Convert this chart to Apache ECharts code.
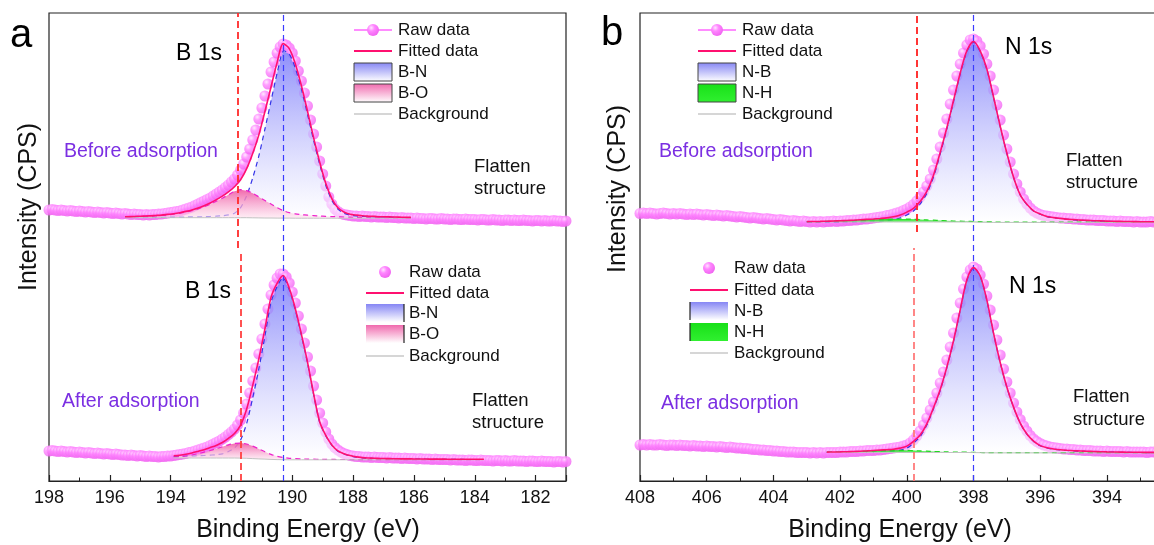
<!DOCTYPE html>
<html><head><meta charset="utf-8">
<script src="https://cdn.jsdelivr.net/npm/echarts@6/dist/echarts.min.js"></script>
<style>html,body{margin:0;padding:0;background:#fff}#c{width:1154px;height:545px}</style>
</head><body><div id="c"></div>
<script>
// ===== DATA (intensity in arbitrary units, stacked offsets included) =====
const rawStep = 0.1;
const aRawStart = 198.0;   // panel a raw data: 198.0 -> 181.0 eV
const bRawStart = 408.0;   // panel b raw data: 408.0 -> 391.0 eV

const aTopRaw = [
271,271.5,271,270.5,271,270.5,270,270.5,270,269.5,
270,269.5,269,269.5,269,268.5,269,268.5,268,268.5,
268,267.5,268,267.5,267,267.5,267,266.5,267,266.5,
266.5,266,266.5,266,266.5,266.5,267,267,267.5,268,
268.5,269,269.5,270,271,272,273,274,275.5,277,
278.5,280,281.5,283,285,287,289,291,293.5,296,
299,302,306,311,317,324,332,341,351,362,
373,385,397,409,419,428,434,437,436,433,
428,420,410,400,388,375,361,347,334,320,
307,295,284,277,272,269.5,267.5,266.5,266,265.5,
265,265,264.5,265,264.5,264.5,264,264.5,264,264,
264,263.5,264,263.5,263.5,263,263.5,263,263,263,
262.5,263,262.5,262.5,262,262.5,262.5,262,262,262.5,
262,262,261.5,262,262,261.5,261.5,262,261.5,261.5,
261.5,261,261.5,261.5,261,261,261.5,261,261,260.5,
261,261,260.5,261,260.5,260.5,261,260.5,260.5,260,
260.5,260.5,260,260.5,260,260,260.5,260,260,259.5,
260];
const aBotRaw = [
30,30.5,30,29.5,30,29.5,29,29.5,29,28.5,
29,28.5,28,28.5,28,27.5,28,27.5,27,27.5,
27,26.5,27,26.5,26,26,25.5,26,25.5,25,
25.5,25,24.5,25,24.5,24.5,24,24.5,24.5,25,
25,25.5,26,26.5,27,27.5,28.5,29,30,31,
32,33,34,35.5,37,38.5,40,42,44,46.5,
49,52,56,61,68,77,88,100,113,127,
142,157,172,186,196,203,207,207,204,198,
189,178,165,152,138,124,110,95,81,68,
58,49,42,37,33.5,31,29,27.5,26.5,25.5,
25,24.5,24.5,24,24,24,23.5,24,23.5,23.5,
23.5,23,23.5,23,23,23,22.5,23,22.5,22.5,
22.5,22,22.5,22,22,22,21.5,22,21.5,21.5,
21.5,21.5,21,21.5,21,21,21,20.5,21,21,
20.5,20.5,21,20.5,20.5,20.5,20,20.5,20.5,20,
20.5,20,20,20.5,20,20,20,19.5,20,20,
19.5,19.5,20,19.5,19.5,19.5,19,19.5,19.5,19,
19.5];
const bTopRaw = [
267.5,268,267.5,268,267.5,267,267.5,268,267.5,267,
267.5,267,267.5,267,266.5,267,266.5,267,266.5,266,
266.5,266,265.5,266,265.5,265,265.5,265,264.5,264,
264.5,264,263.5,263,263.5,263,262.5,262,262.5,262,
261.5,261,261.5,261,260.5,260,260.5,260,259.5,260,
259.5,259,259.5,259,259.5,259,259.5,259.5,260,259.5,
260,260,260.5,260.5,261,261,261.5,262,262,262.5,
263,263.5,264,264.5,265.5,266,267,268,269,270.5,
272,274,276.5,280,284,289,295,302,311,322,
334,348,362,377,391,405,417,428,436,441,
442,440,435,427,417,405,391,376,361,346,
332,319,307,297,289,282,277,273,270,268,
266.5,265.5,265,264.5,264,263.5,263,263,262.5,262.5,
262,262,261.5,261.5,261,261,261,260.5,260.5,260.5,
260,260,260,259.5,260,259.5,259.5,259.5,259,259.5,
259,259,259,259.5,259,259,258.5,259,259,258.5,
259,258.5,258.5,259,258.5,258.5,258.5,258,258.5,258.5,
258.5];
const bBotRaw = [
36,36.5,36,36.5,36,36,36.5,36,35.5,36,
36,35.5,36,35.5,35.5,35,35.5,35,35,34.5,
35,34.5,34.5,34,34.5,34,33.5,34,33.5,33,
33,32.5,32.5,32,31.5,31.5,31,31,30.5,30.5,
30,30,29.5,29.5,29,29,29,28.5,28.5,28.5,
28.5,28,28.5,28,28.5,28,28.5,28.5,28.5,28.5,
29,29,29,29.5,29.5,29.5,30,30,30.5,30.5,
30.5,31,31,31.5,32,32.5,33,33.5,34,35,
36,38,41,45,50,56,63,71,79,88,
98,109,121,134,148,163,178,192,204,211,
214,212,206,197,185,171,156,141,126,112,
99,88,78,69,61.5,55,50,45.5,42,39.5,
37.5,36,35,34,33.5,33,32.5,32,32,31.5,
31.5,31,31,30.5,30.5,30.5,30,30,30,29.5,
30,29.5,29.5,29.5,29.5,29,29.5,29,29,29,
29,29,28.5,29,29,28.5,29,28.5,28.5,28.5,
29,28.5,28.5,28.5,28.5,28,28.5,28.5,28,28.5,
28.5];

// Peak fitting components (step 0.2 eV). Main/side = heights above background.
const fitStep = 0.2;
const aTopFitStart = 195.5;
const aTopBg = [
263.3,263.3,263.3,263.3,263.3,263.3,263.3,263.3,263.3,263.3,
263.3,263.3,263.3,263.3,263.3,263.3,263.3,263.3,263.3,263.3,
263.3,263.2,263.1,263.0,263.0,262.9,262.9,262.9,262.8,262.8,
262.8,262.8,262.8,262.8,262.8,262.8,262.8,262.8,262.8,262.8,
262.8,262.8,262.8,262.8,262.8,262.8,262.8,262.8];
const aTopBN = [
0.2,0.2,0.3,0.3,0.3,0.4,0.4,0.5,0.5,0.6,
0.7,0.8,0.9,1.0,1.2,1.5,2.0,2.8,4.5,10,
22,40,62,89,117,145,167,164,150,129,
104,78,54,33,18,9,5,3,2.2,1.7,
1.4,1.2,1.0,0.9,0.8,0.7,0.6,0.5];
const aTopBO = [
0.8,0.9,1.1,1.3,1.5,1.8,2.2,2.8,3.5,4.4,
5.6,7.0,8.8,11.0,13.5,16.5,19.5,23.0,26.5,28.0,
27.0,24.5,21.0,17.5,14.0,10.5,7.5,5.5,4.3,3.5,
3.0,2.6,2.2,1.9,1.6,1.4,1.2,1.0,0.9,0.8,
0.7,0.6,0.5,0.5,0.4,0.4,0.3,0.3];

const aBotFitStart = 193.9;
const aBotBg = [
23.0,23.0,23.0,23.0,23.0,23.0,23.0,23.0,23.0,23.0,
23.0,22.9,22.7,22.4,22.1,21.9,21.6,21.4,21.3,21.2,
21.2,21.2,21.2,21.2,21.2,21.2,21.2,21.2,21.2,21.2,
21.2,21.2,21.2,21.2,21.2,21.2,21.2,21.2,21.2,21.2,
21.2,21.2,21.2,21.2,21.2,21.2,21.2,21.2,21.2,21.2,
21.2,21.2];
const aBotBN = [
1.2,1.4,1.7,2.0,2.3,2.5,2.9,3.3,4.2,6.5,
10,18,35,61,90,123,157,173,182,170,
150,124.5,97,65.5,37.5,24,14.5,8.6,5.8,3.9,
2.7,2.0,1.6,1.3,1.1,1.0,0.9,0.8,0.7,0.7,
0.6,0.6,0.5,0.5,0.5,0.4,0.4,0.4,0.3,0.3,
0.3,0.3];
const aBotBO = [
1.0,1.4,2.0,3.0,4.3,5.8,7.5,9.3,11.3,13.2,
14.5,15.0,14.3,12.5,10.0,7.3,5.0,3.3,2.2,1.5,
1.1,0.9,0.7,0.6,0.5,0.4,0.4,0.3,0.3,0.3,
0.2,0.2,0.2,0.2,0.2,0.2,0.2,0.2,0.2,0.2,
0.2,0.2,0.2,0.2,0.2,0.2,0.2,0.2,0.2,0.2,
0.2,0.2];

const bTopFitStart = 403.0;
const bTopBg = [
259.0,259.0,259.0,259.0,259.0,259.0,259.0,259.0,259.0,259.0,
259.0,259.0,259.0,259.0,259.0,259.0,259.0,259.0,259.0,259.0,
259.0,259.0,259.0,259.0,259.0,258.9,258.8,258.7,258.6,258.6,
258.6,258.6,258.6,258.6,258.6,258.6,258.6,258.6,258.6,258.6,
258.6,258.6,258.6,258.6,258.6,258.6,258.6,258.6,258.6,258.6,
258.6,258.6,258.6,258.6,258.6,258.6];
const bTopNB = [
0.1,0.1,0.1,0.2,0.2,0.2,0.3,0.3,0.4,0.5,
0.6,0.8,1.2,2.2,4.0,7.0,11,18,28.5,45,
68,93,120.5,148,170.5,180,170.8,152.8,125,95.8,
68.8,44.8,27.3,17.8,11.3,8.1,5.8,4.6,3.8,3.1,
2.6,2.1,1.8,1.5,1.3,1.1,0.9,0.8,0.7,0.6,
0.5,0.4,0.4,0.3,0.3,0.2];
const bTopNH = [
0.3,0.4,0.5,0.6,0.8,1.0,1.2,1.5,1.8,2.1,
2.4,2.7,2.9,3.0,3.0,2.9,2.7,2.4,2.1,1.8,
1.5,1.2,1.0,0.8,0.7,0.6,0.5,0.5,0.4,0.4,
0.4,0.4,0.3,0.3,0.3,0.3,0.2,0.2,0.2,0.2,
0.2,0.2,0.2,0.2,0.2,0.2,0.2,0.2,0.2,0.2,
0.2,0.2,0.2,0.2,0.2,0.2];

const bBotFitStart = 402.4;
const bBotBg = [
28.5,28.5,28.5,28.5,28.5,28.5,28.5,28.5,28.5,28.5,
28.5,28.5,28.5,28.5,28.5,28.5,28.5,28.5,28.5,28.5,
28.5,28.5,28.4,28.3,28.2,28.1,28.1,28.1,28.1,28.1,
28.1,28.1,28.1,28.1,28.1,28.1,28.1,28.1,28.1,28.1,
28.1,28.1,28.1,28.1,28.1,28.1,28.1,28.1,28.1,28.1,
28.1,28.1,28.1];
const bBotNB = [
0.1,0.1,0.1,0.2,0.2,0.3,0.3,0.4,0.5,0.7,
1.1,2.2,4.3,9.3,15.9,27.4,43.8,62,84.8,111.2,
142.3,172.3,184.7,176.5,152.5,119.6,90.2,65.5,45.6,29.6,
18.7,11.6,7.1,4.9,3.7,2.9,2.4,2.0,1.7,1.4,
1.2,1.0,0.8,0.7,0.6,0.5,0.4,0.4,0.3,0.3,
0.3,0.2,0.2];
const bBotNH = [
0.3,0.4,0.5,0.6,0.8,1.0,1.3,1.6,1.9,2.1,
2.2,2.2,2.1,1.9,1.6,1.3,1.0,0.8,0.6,0.5,
0.4,0.3,0.3,0.2,0.2,0.2,0.2,0.2,0.2,0.2,
0.2,0.2,0.2,0.2,0.2,0.2,0.2,0.2,0.2,0.2,
0.2,0.2,0.2,0.2,0.2,0.2,0.2,0.2,0.2,0.2,
0.2,0.2,0.2];

// Reference peak positions (eV)
const aRefLines = {redTop: 191.8, redBottom: 191.7, blue: 190.3};
const bRefLines = {redTop: 399.7, redBottom: 399.8, blue: 398.0};

// Axis ranges (eV)
const aRange = [181, 198];
const bRange = [391, 408];

// Texts
const aLegendLabels = ['Raw data', 'Fitted data', 'B-N', 'B-O', 'Background'];
const bLegendLabels = ['Raw data', 'Fitted data', 'N-B', 'N-H', 'Background'];

// ===== BUILD =====
const FF = '"Liberation Sans", Arial, Helvetica, sans-serif';
const G = echarts.graphic;
function seq(start, step, n) { const a = []; for (let i = 0; i < n; i++) a.push(+(start - i * step).toFixed(2)); return a; }
function pairs(xs, ys) { return ys.map((y, i) => [xs[i], y]); }

const ballGrad = () => new G.RadialGradient(0.36, 0.32, 0.7, [
  {offset: 0, color: '#ffe4ff'}, {offset: 0.4, color: '#ff86ff'}, {offset: 1, color: '#f064f0'}]);
const blueArea = () => new G.LinearGradient(0, 0, 0, 1, [
  {offset: 0, color: 'rgba(126,126,250,0.88)'}, {offset: 1, color: 'rgba(255,255,255,0.55)'}]);
const pinkArea = () => new G.LinearGradient(0, 0, 0, 1, [
  {offset: 0, color: 'rgba(240,96,168,0.95)'}, {offset: 1, color: 'rgba(255,225,238,0.6)'}]);
const greenArea = () => new G.LinearGradient(0, 0, 0, 1, [
  {offset: 0, color: 'rgba(20,228,20,0.95)'}, {offset: 1, color: 'rgba(110,240,110,0.75)'}]);

const blueLine = {color: '#3c3cff', width: 1.2, type: [6, 4]};
function redLine(c) { return {color: c, width: 1.8, type: [7, 4]}; }

// filled component between background and (background + height), drawn through the axis scales
function componentSeries(gi, fx, bg, comp, lineColor, fillFn) {
  const upper = bg.map((b, i) => b + comp[i]);
  return {
    type: 'custom', coordinateSystem: 'cartesian2d', xAxisIndex: gi, yAxisIndex: gi,
    silent: true, animation: false, z: 3, clip: true,
    data: [[fx[0], bg[0]]],
    renderItem: function (params, api) {
      const up = fx.map((x, i) => api.coord([x, upper[i]]));
      const lo = fx.map((x, i) => api.coord([x, bg[i]])).reverse();
      return {type: 'group', children: [
        {type: 'polygon', shape: {points: up.concat(lo)}, style: {fill: fillFn(), stroke: null}},
        {type: 'polyline', shape: {points: up, smooth: 0.25}, style: {stroke: lineColor, lineWidth: 1.2, lineDash: [5, 4], fill: null}}
      ]};
    }
  };
}

function spectrum(gi, rawStart, raw, fitStart, bg, main, side, sideColor, sideArea, markData) {
  const rx = seq(rawStart, rawStep, raw.length);
  const fx = seq(fitStart, fitStep, bg.length);
  const fit = bg.map((b, i) => +(b + main[i] + side[i]).toFixed(2));
  const common = {xAxisIndex: gi, yAxisIndex: gi, symbol: 'none', silent: true, animation: false};
  return [
    {type: 'scatter', xAxisIndex: gi, yAxisIndex: gi, data: pairs(rx, raw), symbolSize: 11,
     itemStyle: {color: ballGrad()}, z: 2, silent: true, animation: false,
     markLine: {symbol: ['none', 'none'], silent: true, animation: false, label: {show: false},
                emphasis: {disabled: true}, data: markData}},
    componentSeries(gi, fx, bg, main, '#3535e8', blueArea),
    componentSeries(gi, fx, bg, side, sideColor, sideArea),
    Object.assign({type: 'line', data: pairs(fx, bg), lineStyle: {color: '#c2c2c2', width: 1}, z: 4}, common),
    Object.assign({type: 'line', data: pairs(fx, fit), smooth: 0.3, lineStyle: {color: '#ff1070', width: 1.6}, z: 5}, common)
  ];
}

const series = [].concat(
  spectrum(0, aRawStart, aTopRaw, aTopFitStart, aTopBg, aTopBN, aTopBO, '#ee22cc', pinkArea, [
    {xAxis: aRefLines.blue, lineStyle: blueLine},
    [{coord: [aRefLines.redTop, 233], lineStyle: redLine('#ff2b2b')}, {coord: [aRefLines.redTop, 468]}]
  ]),
  spectrum(0, aRawStart, aBotRaw, aBotFitStart, aBotBg, aBotBN, aBotBO, '#ee22cc', pinkArea, [
    [{coord: [aRefLines.redBottom, 0], lineStyle: redLine('#ff4040')}, {coord: [aRefLines.redBottom, 229]}]
  ]),
  spectrum(1, bRawStart, bTopRaw, bTopFitStart, bTopBg, bTopNB, bTopNH, '#22d822', greenArea, [
    {xAxis: bRefLines.blue, lineStyle: blueLine},
    [{coord: [bRefLines.redTop, 249], lineStyle: redLine('#ff2020')}, {coord: [bRefLines.redTop, 468]}]
  ]),
  spectrum(1, bRawStart, bBotRaw, bBotFitStart, bBotBg, bBotNB, bBotNH, '#22d822', greenArea, [
    [{coord: [bRefLines.redBottom, 0], lineStyle: redLine('#ff7a7a')}, {coord: [bRefLines.redBottom, 233]}]
  ])
);

function xAx(gi, r) {
  return {type: 'value', gridIndex: gi, min: r[0], max: r[1], inverse: true, splitNumber: 8,
    axisLine: {show: true, onZero: false, lineStyle: {color: '#222', width: 1.2}},
    axisTick: {show: true, inside: true, length: 6, lineStyle: {color: '#222', width: 1.2}},
    minorTick: {show: true, splitNumber: 2, length: 3.5, lineStyle: {color: '#222', width: 1}},
    axisLabel: {show: true, color: '#111', fontSize: 18, fontFamily: FF, margin: 8, showMinLabel: false, showMaxLabel: true},
    splitLine: {show: false}, minorSplitLine: {show: false}};
}
function yAx(gi) {
  return {type: 'value', gridIndex: gi, min: 0, max: 468, axisLine: {show: false}, axisTick: {show: false},
    axisLabel: {show: false}, splitLine: {show: false}};
}
const gridCommon = {show: true, borderColor: '#222', borderWidth: 1.2, backgroundColor: 'transparent',
  containLabel: false, outerBoundsMode: 'none'};

// Graphic texts and legends
function T(text, x, y, size, fill, opt) {
  opt = opt || {};
  return {type: 'text', x: x, y: y, rotation: opt.rot || 0, z: 100, silent: true,
    style: {text: text, font: size + 'px ' + FF, fill: fill || '#111',
            textAlign: opt.align || 'left', textVerticalAlign: 'middle'}};
}
const purple = '#7b2fe2';
function legend(L, labels, compFills) {
  const e = [];
  const r = L.rows;
  if (L.line) e.push({type: 'line', z: 100, shape: {x1: L.x0, y1: r[0], x2: L.x1, y2: r[0]}, style: {stroke: '#ff8cff', lineWidth: 2}});
  e.push({type: 'circle', z: 101, shape: {cx: L.bx, cy: r[0], r: 6}, style: {fill: ballGrad()}});
  e.push({type: 'line', z: 100, shape: {x1: L.x0, y1: r[1], x2: L.x1, y2: r[1]}, style: {stroke: '#ff1070', lineWidth: 2}});
  [2, 3].forEach((k, j) => {
    e.push({type: 'rect', z: 100, shape: {x: L.x0, y: r[k] - 9, width: L.x1 - L.x0, height: 18},
      style: {fill: compFills[j], stroke: L.box ? '#444' : null, lineWidth: 1}});
    if (L.edge != null) e.push({type: 'line', z: 101, shape: {x1: L.edge, y1: r[k] - 9, x2: L.edge, y2: r[k] + 9}, style: {stroke: '#222', lineWidth: 1.2}});
  });
  e.push({type: 'line', z: 100, shape: {x1: L.x0, y1: r[4], x2: L.x1, y2: r[4]}, style: {stroke: '#c8c8c8', lineWidth: 1.5}});
  labels.forEach((t, i) => e.push(T(t, L.tx, r[i], 17)));
  return e;
}
const legFillBN = () => new G.LinearGradient(0, 0, 0, 1, [{offset: 0, color: '#8686f4'}, {offset: 1, color: '#ffffff'}]);
const legFillBO = () => new G.LinearGradient(0, 0, 0, 1, [{offset: 0, color: '#f06aae'}, {offset: 1, color: '#ffffff'}]);
const legFillNH = () => new G.LinearGradient(0, 0, 0, 1, [{offset: 0, color: '#18e018'}, {offset: 1, color: '#30f030'}]);

const graphics = [].concat(
  legend({x0: 354, x1: 392, bx: 373, tx: 398, rows: [30, 51, 72, 93, 114], line: true, box: true}, aLegendLabels, [legFillBN(), legFillBO()]),
  legend({x0: 366, x1: 404, bx: 385, tx: 409, rows: [272, 293, 313, 334, 356], line: false, edge: 404}, aLegendLabels, [legFillBN(), legFillBO()]),
  legend({x0: 698, x1: 736, bx: 717, tx: 742, rows: [30, 51, 72, 93, 114], line: true, box: true}, bLegendLabels, [legFillBN(), legFillNH()]),
  legend({x0: 690, x1: 728, bx: 709, tx: 734, rows: [268, 290, 311, 332, 353], line: false, edge: 690}, bLegendLabels, [legFillBN(), legFillNH()]),
  [
    T('a', 10, 36, 40, '#000'),
    T('b', 601, 34, 40, '#000'),
    T('B 1s', 176, 54, 23, '#000'),
    T('B 1s', 185, 292, 23, '#000'),
    T('N 1s', 1005, 48, 23, '#000'),
    T('N 1s', 1009, 287, 23, '#000'),
    T('Before adsorption', 64, 152, 19.5, purple),
    T('After adsorption', 62, 402, 19.5, purple),
    T('Before adsorption', 659, 152, 19.5, purple),
    T('After adsorption', 661, 404, 19.5, purple),
    T('Flatten', 474, 167, 18.5, '#111'), T('structure', 474, 189, 18.5, '#111'),
    T('Flatten', 472, 401, 18.5, '#111'), T('structure', 472, 423, 18.5, '#111'),
    T('Flatten', 1066, 161, 18.5, '#111'), T('structure', 1066, 183, 18.5, '#111'),
    T('Flatten', 1073, 397, 18.5, '#111'), T('structure', 1073, 420, 18.5, '#111'),
    T('Intensity (CPS)', 29, 207, 25, '#111', {rot: Math.PI / 2, align: 'center'}),
    T('Intensity (CPS)', 618, 189, 25, '#111', {rot: Math.PI / 2, align: 'center'}),
    T('Binding Energy (eV)', 308, 530, 25, '#111', {align: 'center'}),
    T('Binding Energy (eV)', 900, 530, 25, '#111', {align: 'center'})
  ]
);

const chart = echarts.init(document.getElementById('c'), null, {renderer: 'canvas'});
chart.setOption({
  animation: false,
  backgroundColor: '#ffffff',
  grid: [
    Object.assign({left: 49, top: 13, width: 517, height: 468}, gridCommon),
    Object.assign({left: 640, top: 13, width: 567, height: 468}, gridCommon)
  ],
  xAxis: [xAx(0, aRange), xAx(1, bRange)],
  yAxis: [yAx(0), yAx(1)],
  series: series,
  graphic: {elements: graphics}
});
</script></body></html>
